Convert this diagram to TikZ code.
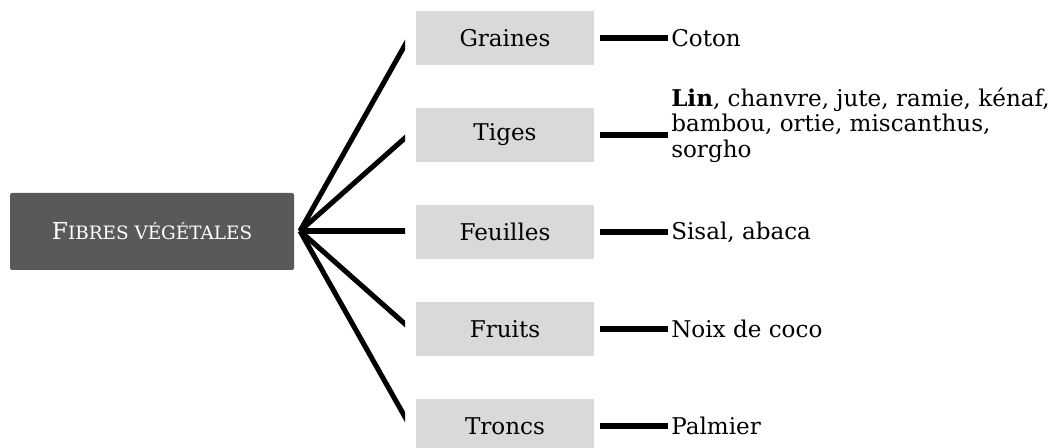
\documentclass[tikz,border=0pt]{standalone}
\usepackage{fontspec}
\setmainfont{DejaVu Serif}
\begin{document}
\begin{tikzpicture}[x=0.75pt,y=-0.75pt,
  cat/.style={fill=catgrey,minimum width=133.5pt,minimum height=40.5pt,inner sep=0pt,font=\fontsize{17.3}{19.2}\selectfont},
  leaf/.style={anchor=west,inner sep=0pt,align=left,font=\fontsize{17.3}{19.2}\selectfont},
  fan/.style={line width=3.8pt,shorten >=-4pt},
  link/.style={line width=3.8pt}]
\definecolor{catgrey}{HTML}{D9D9D9}
\definecolor{rootgrey}{HTML}{595959}
\useasboundingbox (0,0) rectangle (1058,448);
\node[fill=rootgrey,rounded corners=1.5pt,minimum width=213pt,minimum height=57.75pt,inner sep=0pt,text=white,font=\fontsize{17.5}{19}\selectfont] (root) at (152,231.5) {F{\fontsize{13.8}{15}\selectfont IBRES VÉGÉTALES}};
\coordinate (hub) at (300,231);
\node[cat] (c1) at (505,38) {Graines};
\node[cat] (c2) at (505,135) {Tiges};
\node[cat] (c3) at (505,232) {Feuilles};
\node[cat] (c4) at (505,329) {Fruits};
\node[cat] (c5) at (505,426) {Troncs};
\coordinate (e1) at (405,45);
\coordinate (e2) at (405,138);
\coordinate (e3) at (405,231);
\coordinate (e4) at (405,324);
\coordinate (e5) at (405,417);
\begin{scope}
\clip (200,0) rectangle (405,448);
\foreach \i in {1,...,5} \draw[fan] (hub) -- (e\i);
\end{scope}
\node[leaf] (l1) at (671,38) {Coton};
\node[leaf] (l2) at (671,125) {\textbf{Lin}, chanvre, jute, ramie, kénaf,\\bambou, ortie, miscanthus,\\sorgho};
\node[leaf] (l3) at (671,232) {Sisal, abaca};
\node[leaf] (l4) at (671,329) {Noix de coco};
\node[leaf] (l5) at (671,426) {Palmier};
\foreach \i in {1,...,5} \draw[link] ([xshift=4.5pt]c\i.east) -- ([xshift=-2pt]l\i.west |- c\i.east);
\end{tikzpicture}
\end{document}
